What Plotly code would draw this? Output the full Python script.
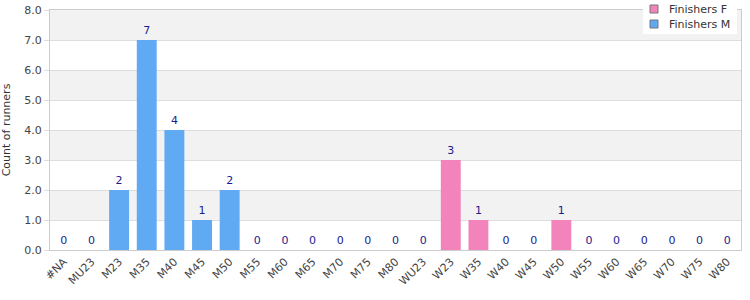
import plotly.graph_objects as go

categories = ["#NA", "MU23", "M23", "M35", "M40", "M45", "M50", "M55", "M60", "M65",
              "M70", "M75", "M80", "WU23", "W23", "W35", "W40", "W45", "W50", "W55",
              "W60", "W65", "W70", "W75", "W80"]
finishers_m = [0, 0, 2, 7, 4, 1, 2, 0, 0, 0, 0, 0, 0, None, None, None, None, None, None,
               None, None, None, None, None, None]
finishers_f = [None] * 13 + [0, 3, 1, 0, 0, 1, 0, 0, 0, 0, 0, 0]
series_names = ["Finishers F", "Finishers M"]
y_ticks = [0, 1, 2, 3, 4, 5, 6, 7, 8]

FONT = "DejaVu Sans"
label_font = dict(family=FONT, size=11, color="#1b1b8f")
COLOR_F = "#f283bb"
COLOR_M = "#60a9f3"

W, H = 750, 300
ML, MR, MT, MB = 50, 9, 10, 50
PW, PH = W - ML - MR, H - MT - MB


def px(x):
    return (x - ML) / PW


def py(y):
    return (H - MB - y) / PH


fig = go.Figure()
for name, vals, col in [(series_names[0], finishers_f, COLOR_F),
                        (series_names[1], finishers_m, COLOR_M)]:
    fig.add_trace(go.Bar(
        x=categories, y=vals, name=name, showlegend=False,
        marker=dict(color=col, line=dict(width=0)),
        text=[None if v is None else str(v) for v in vals],
        textposition="outside", textfont=label_font,
        outsidetextfont=label_font, insidetextfont=label_font,
        constraintext="none", cliponaxis=False,
    ))

shapes = []
for lo in range(1, 8, 2):
    shapes.append(dict(type="rect", xref="paper", yref="y", x0=0, x1=1, y0=lo, y1=lo + 1,
                       fillcolor="#f2f2f2", line=dict(width=0), layer="below"))

# manual legend (box, swatches, labels)
shapes.append(dict(type="rect", xref="paper", yref="paper",
                   x0=px(643), x1=px(737), y0=py(34), y1=py(0),
                   fillcolor="white", line=dict(width=0), layer="above"))
annotations = []
for i, (name, col) in enumerate(zip(series_names, [COLOR_F, COLOR_M])):
    cy = 9 + 15 * i
    shapes.append(dict(type="rect", xref="paper", yref="paper",
                       x0=px(650), x1=px(658), y0=py(cy + 4), y1=py(cy - 4),
                       fillcolor=col, line=dict(color="#777", width=1), layer="above"))
    annotations.append(dict(xref="paper", yref="paper", x=px(667), y=py(cy),
                            xanchor="left", yanchor="middle", showarrow=False,
                            text=name, font=dict(family=FONT, size=11, color="#333")))

fig.update_layout(
    width=W, height=H,
    margin=dict(l=ML, r=MR, t=MT, b=MB, autoexpand=False),
    barmode="overlay", bargap=0.28,
    plot_bgcolor="white", paper_bgcolor="white",
    font=dict(family=FONT, size=11, color="#444"),
    shapes=shapes, annotations=annotations,
    showlegend=False,
    xaxis=dict(type="category", categoryorder="array", categoryarray=categories,
               tickangle=-45, tickfont=dict(family=FONT, size=11, color="#444"),
               showline=True, linecolor="#cccccc", mirror=True, ticks="",
               showgrid=False, automargin=False),
    yaxis=dict(range=[0, 8], tickvals=y_ticks, tickformat=".1f",
               tickfont=dict(family=FONT, size=11, color="#444"),
               title=dict(text="Count of runners", font=dict(family=FONT, size=11, color="#333"),
                          standoff=12),
               showgrid=True, gridcolor="#dddddd", gridwidth=1,
               showline=True, linecolor="#cccccc", mirror=True,
               ticks="outside", ticklen=5, tickcolor="#dddddd",
               zeroline=False, automargin=False),
)

fig.write_html("out.html")
